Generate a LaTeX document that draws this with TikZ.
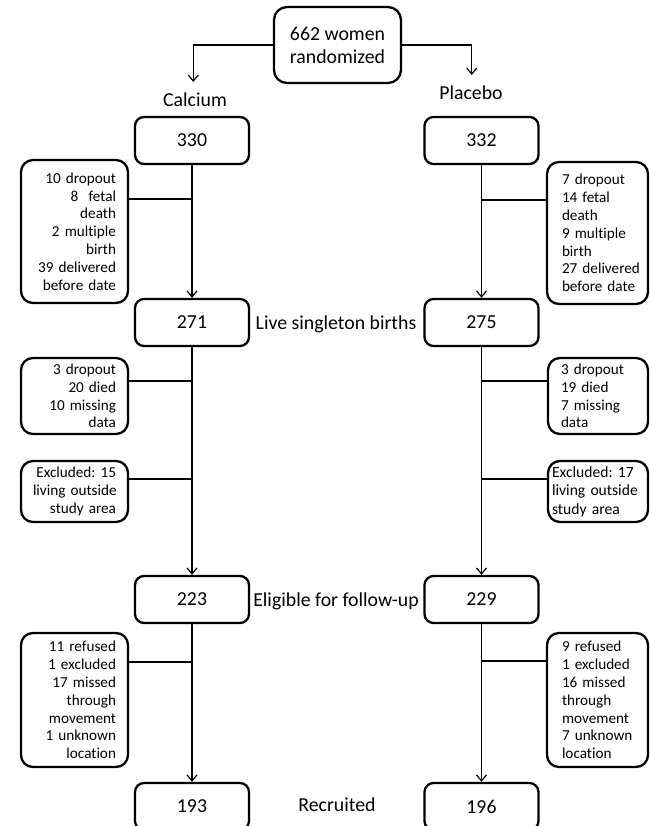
\documentclass[tikz,border=0pt]{standalone}
\usepackage{fontspec}
\setmainfont{Carlito}[Ligatures=NoCommon]
\usetikzlibrary{arrows.meta}
\newcommand\oneline[1]{\mbox{#1}}
\frenchspacing
\begin{document}
\frenchspacing
\begin{tikzpicture}[x=1pt,y=-1pt,
  bigfont/.style={font=\fontsize{19.8}{23}\selectfont},
  smallfont/.style={font=\fontsize{15.2}{17.8}\selectfont},
  numbox/.style={draw, line width=2.3pt, rounded corners=9pt, minimum width=114pt,
    minimum height=47pt, inner sep=0pt, bigfont},
  topbox/.style={draw, line width=2.3pt, rounded corners=13pt, minimum width=127pt,
    minimum height=76pt, inner sep=0pt, align=center, bigfont},
  sidebox/.style={draw, line width=2.3pt, rounded corners=12pt, inner ysep=0pt, smallfont},
  lbox/.style={sidebox, align=right, text width=83pt, inner xsep=12pt},
  rbox/.style={sidebox, align=left},
  lab/.style={inner sep=0pt, bigfont},
  conn/.style={line width=1.2pt},
  arr/.style={conn, -{Straight Barb[length=6pt,width=10pt]}}
]
\useasboundingbox (0,0) rectangle (649,826);

% top
\node[topbox] (top) at (337.5,45) {662 women\\randomized};
\node[lab] (cal) at (195,100) {Calcium};
\node[lab] (pla) at (471,93) {Placebo};
\coordinate (calend) at (193.3,82);
\coordinate (plaend) at (471.7,75);
\draw[arr] (top.west) -| (calend);
\draw[arr] (top.east) -| (plaend);

% number boxes
\node[numbox] (c1) at (192,140.5) {330};
\node[numbox] (p1) at (481.5,140.5) {332};
\node[numbox] (c2) at (192,322.5) {271};
\node[numbox] (p2) at (481.5,322.5) {275};
\node[numbox] (c3) at (192,599.5) {223};
\node[numbox] (p3) at (481.5,599.5) {229};
\node[numbox] (c4) at (192,806.5) {193};
\node[numbox] (p4) at (481.5,806.5) {196};

% row labels
\node[lab] (live) at (336,324) {Live singleton births};
\node[lab] (elig) at (336,601) {Eligible for follow-up};
\node[lab] (recr) at (337,805) {Recruited};

% vertical arrows
\draw[arr] (c1) -- (c2);
\draw[arr] (c2) -- (c3);
\draw[arr] (c3) -- (c4);
\draw[arr] (p1) -- (p2);
\draw[arr] (p2) -- (p3);
\draw[arr] (p3) -- (p4);

% left side boxes
\node[lbox, minimum height=143pt] (l1) at (74.5,231.5)
  {\oneline{10 dropout}\\\oneline{8\ \ fetal}\\death\\\oneline{2 multiple}\\birth\\\oneline{39 delivered}\\\oneline{before date}};
\node[lbox, minimum height=76pt] (l2) at (74.5,396)
  {\oneline{3 dropout}\\\oneline{20 died}\\\oneline{10 missing}\\data};
\node[lbox, minimum height=61pt] (l3) at (74.5,491.5)
  {\oneline{Excluded: 15}\\\oneline{living outside}\\\oneline{study area}};
\node[lbox, minimum height=134pt] (l4) at (74.5,700)
  {\oneline{11 refused}\\\oneline{1 excluded}\\\oneline{17 missed}\\through\\movement\\\oneline{1 unknown}\\location};

% right side boxes
\node[rbox, text width=71pt, inner xsep=15pt, minimum height=142pt] (r1) at (597.5,233)
  {\oneline{7 dropout}\\\oneline{14 fetal}\\death\\\oneline{9 multiple}\\birth\\\oneline{27 delivered}\\\oneline{before date}};
\node[rbox, text width=74pt, inner xsep=13pt, minimum height=76pt] (r2) at (598,396)
  {\oneline{3 dropout}\\\oneline{19 died}\\\oneline{7 missing}\\data};
\node[rbox, text width=92pt, inner xsep=4pt, minimum height=61pt,
  font=\fontsize{15.6}{18.5}\selectfont] (r3) at (598,491.5)
  {\oneline{Excluded: 17}\\\oneline{living outside}\\\oneline{study area}};
\node[rbox, text width=71pt, inner xsep=15pt, minimum height=134pt] (r4) at (597.5,700)
  {\oneline{9 refused}\\\oneline{1 excluded}\\\oneline{16 missed}\\through\\movement\\\oneline{7 unknown}\\location};

% side connectors
\coordinate (jl1) at (192,199);
\coordinate (jl2) at (192,381);
\coordinate (jl3) at (192,479);
\coordinate (jl4) at (192,662);
\coordinate (jr1) at (481.5,200);
\coordinate (jr2) at (481.5,381);
\coordinate (jr3) at (481.5,479);
\coordinate (jr4) at (481.5,661);
\draw[conn] (jl1) -- (jl1 -| l1.east);
\draw[conn] (jl2) -- (jl2 -| l2.east);
\draw[conn] (jl3) -- (jl3 -| l3.east);
\draw[conn] (jl4) -- (jl4 -| l4.east);
\draw[conn] (jr1) -- (jr1 -| r1.west);
\draw[conn] (jr2) -- (jr2 -| r2.west);
\draw[conn] (jr3) -- (jr3 -| r3.west);
\draw[conn] (jr4) -- (jr4 -| r4.west);
\end{tikzpicture}
\end{document}
